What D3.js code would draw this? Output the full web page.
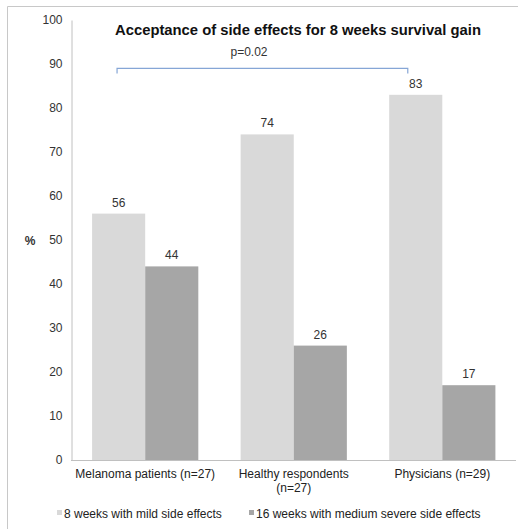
<!DOCTYPE html>
<html>
<head>
<meta charset="utf-8">
<script src="https://cdn.jsdelivr.net/npm/d3@7"></script>
<style>
  html, body { margin: 0; padding: 0; background: #fff; }
  svg { display: block; font-family: "Liberation Sans", Arial, sans-serif; }
</style>
</head>
<body>
<svg id="chart" width="524" height="529"></svg>
<script>
// Survey groups and acceptance percentages
const categories = ["Melanoma patients (n=27)", "Healthy respondents (n=27)", "Physicians (n=29)"];
const categoryLines = [["Melanoma patients (n=27)"], ["Healthy respondents", "(n=27)"], ["Physicians (n=29)"]];
const seriesNames = ["8 weeks with mild side effects", "16 weeks with medium severe side effects"];
const mildValues = [56, 74, 83];
const severeValues = [44, 26, 17];
const yTicks = [0, 10, 20, 30, 40, 50, 60, 70, 80, 90, 100];
const colors = ["#d9d9d9", "#a6a6a6"];

const svg = d3.select("#chart");

// Outer frame (top and left edges)
svg.append("line").attr("x1", 7.5).attr("x2", 518).attr("y1", 6.5).attr("y2", 6.5)
  .attr("stroke", "#c8c8c8").attr("stroke-width", 1);
svg.append("line").attr("x1", 7.5).attr("x2", 7.5).attr("y1", 6.5).attr("y2", 529)
  .attr("stroke", "#c8c8c8").attr("stroke-width", 1);

const x0 = d3.scaleBand().domain(categories).range([71, 516.5]).paddingInner(0.285).paddingOuter(0.142);
const x1 = d3.scaleBand().domain([0, 1]).range([0, x0.bandwidth()]).padding(0);
const y = d3.scaleLinear().domain([0, 100]).range([460, 20]);

// Y axis
const yAxis = d3.axisLeft(y).tickValues(yTicks).tickSize(0).tickPadding(9);
const gy = svg.append("g").attr("transform", "translate(71.5,0)").call(yAxis);
gy.select(".domain").attr("stroke", "#c0c0c0");
gy.selectAll("text").attr("font-size", 12).attr("fill", "#333").attr("font-family", "Liberation Sans, Arial, sans-serif");

// X axis
const xAxis = d3.axisBottom(x0).tickSize(0).tickFormat(() => "");
const gx = svg.append("g").attr("transform", "translate(0,460.5)").call(xAxis);
gx.select(".domain").attr("stroke", "#c0c0c0").attr("d", "M71,0H516");

// Category labels
categories.forEach((c, i) => {
  const t = svg.append("text")
    .attr("x", x0(c) + x0.bandwidth() / 2)
    .attr("y", 478)
    .attr("text-anchor", "middle")
    .attr("font-size", 12)
    .attr("fill", "#222");
  categoryLines[i].forEach((ln, k) => {
    t.append("tspan").attr("x", x0(c) + x0.bandwidth() / 2).attr("dy", k === 0 ? 0 : 14).text(ln);
  });
});

// Bars with value labels
const rows = categories.map((c, i) => ({ c, vals: [mildValues[i], severeValues[i]] }));
const groups = svg.append("g").selectAll("g").data(rows).join("g")
  .attr("transform", d => `translate(${x0(d.c)},0)`);
groups.selectAll("rect").data(d => d.vals.map((v, k) => ({ v, k }))).join("rect")
  .attr("x", d => x1(d.k))
  .attr("width", x1.bandwidth())
  .attr("y", d => y(d.v))
  .attr("height", d => y(0) - y(d.v))
  .attr("fill", d => colors[d.k]);
groups.selectAll("text.val").data(d => d.vals.map((v, k) => ({ v, k }))).join("text")
  .attr("class", "val")
  .attr("x", d => x1(d.k) + x1.bandwidth() / 2)
  .attr("y", d => y(d.v) - 7)
  .attr("text-anchor", "middle")
  .attr("font-size", 12)
  .attr("fill", "#333")
  .text(d => d.v);

// Axis unit
svg.append("text").attr("x", 30).attr("y", 245).attr("text-anchor", "middle")
  .attr("font-size", 12).attr("font-weight", "bold").attr("fill", "#333").text("%");

// Title
svg.append("text").attr("x", 298).attr("y", 35).attr("text-anchor", "middle")
  .attr("font-size", 14.8).attr("font-weight", "bold").attr("fill", "#111")
  .text("Acceptance of side effects for 8 weeks survival gain");

// Significance bracket between melanoma patients and physicians (mild side effects)
const bx1 = x0(categories[0]) + x1(0) + x1.bandwidth() * 0.47;
const bx2 = x0(categories[2]) + x1(0) + x1.bandwidth() * 0.35;
const by = y(89);
svg.append("path")
  .attr("d", `M${bx1},${by + 5}V${by}H${bx2}V${by + 5}`)
  .attr("fill", "none").attr("stroke", "#86a6d6").attr("stroke-width", 1.2);
svg.append("text").attr("x", 249).attr("y", 56).attr("text-anchor", "middle")
  .attr("font-size", 12).attr("fill", "#333").text("p=0.02");

// Legend
const legend = svg.append("g");
const legendItems = [{ x: 57, name: seriesNames[0], color: colors[0] }, { x: 249, name: seriesNames[1], color: colors[1] }];
legendItems.forEach(it => {
  legend.append("rect").attr("x", it.x).attr("y", 510).attr("width", 5).attr("height", 5).attr("fill", it.color);
  legend.append("text").attr("x", it.x + 7).attr("y", 518).attr("font-size", 12).attr("fill", "#222").text(it.name);
});
</script>
</body>
</html>
